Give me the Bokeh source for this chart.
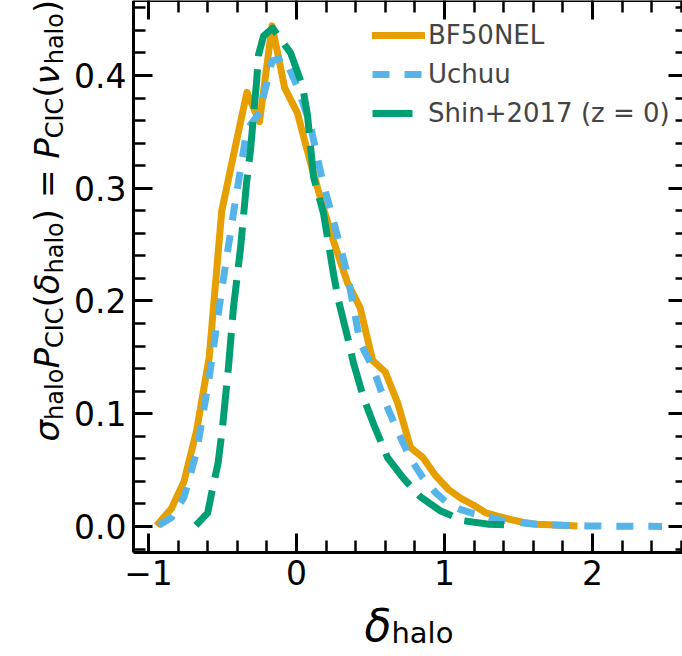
import math
from bokeh.plotting import figure
from bokeh.models import (Range1d, LinearAxis, Legend, LegendItem, Label, SingleIntervalTicker,
                          PrintfTickFormatter, CustomLabelingPolicy)
from bokeh.embed import file_html
from bokeh.resources import INLINE

# ---- data ----
bf_x = [-0.93, -0.845, -0.76, -0.675, -0.59, -0.505, -0.42, -0.335, -0.25, -0.165, -0.08, 0.005,
        0.09, 0.175, 0.26, 0.345, 0.43, 0.515, 0.6, 0.685, 0.77, 0.855, 0.94, 1.025, 1.11, 1.195,
        1.28, 1.365, 1.45, 1.535, 1.62, 1.705, 1.79, 1.875]
bf_y = [0.003, 0.016, 0.040, 0.085, 0.150, 0.280, 0.333, 0.385, 0.359, 0.444, 0.389, 0.367,
        0.325, 0.285, 0.249, 0.216, 0.194, 0.147, 0.137, 0.109, 0.070, 0.061, 0.045, 0.033, 0.025, 0.019,
        0.012, 0.009, 0.006, 0.0035, 0.002, 0.0015, 0.001, 0.0005]

uc_x = [-0.93, -0.845, -0.76, -0.675, -0.59, -0.505, -0.42, -0.335, -0.25, -0.165, -0.08, 0.005,
        0.09, 0.175, 0.26, 0.345, 0.43, 0.515, 0.6, 0.685, 0.77, 0.855, 0.94, 1.025, 1.11, 1.195,
        1.28, 1.365, 1.45, 1.535, 1.62, 1.705, 1.79, 1.875, 1.96, 2.045, 2.13, 2.215, 2.3, 2.385, 2.47]
uc_y = [0.001, 0.008, 0.026, 0.066, 0.132, 0.210, 0.283, 0.352, 0.367, 0.413, 0.416, 0.390,
        0.358, 0.307, 0.266, 0.223, 0.163, 0.141, 0.110, 0.084, 0.060, 0.043, 0.030, 0.020, 0.015, 0.0115,
        0.009, 0.006, 0.0045, 0.003, 0.002, 0.0015, 0.001, 0.0008, 0.0005, 0.0004, 0.0003, 0.0002, 0.0001, 0.0001, 0.0]

sh_x = [-0.68, -0.60, -0.57, -0.53, -0.50, -0.46, -0.426, -0.378, -0.338, -0.31, -0.29, -0.27, -0.257,
        -0.223, -0.162, -0.04, 0.04, 0.074, 0.115, 0.182, 0.25, 0.284, 0.345, 0.385, 0.453, 0.52, 0.615,
        0.72, 0.84, 0.97, 1.13, 1.30, 1.49]
sh_y = [0.001, 0.012, 0.032, 0.056, 0.088, 0.141, 0.194, 0.247, 0.304, 0.335, 0.365, 0.394, 0.418,
        0.435, 0.442, 0.420, 0.391, 0.365, 0.310, 0.278, 0.224, 0.200, 0.168, 0.145, 0.114, 0.091, 0.061,
        0.043, 0.026, 0.014, 0.005, 0.002, 0.001]

series_names = ["BF50NEL", "Uchuu", "Shin+2017 (z = 0)"]
series_colors = ["#E69F00", "#56B4E9", "#009E73"]

# axes limits of the plotted box (the right edge of the box lies just past the picture's edge)
X_MIN, X_MAX = -1.1014, 2.642
Y_MIN, Y_MAX = -0.0231, 0.4665

FONT = "DejaVu Sans"
W, H = 682, 650
BOX_L, BOX_B = 133, 552
XS = 148.0                        # pixels per unit of delta
YS = BOX_B / (Y_MAX - Y_MIN)
# the whole canvas is the frame; the box is drawn with axes pinned at the box edges
xr = Range1d(X_MIN - BOX_L / XS, X_MIN + (W - BOX_L) / XS)
yr = Range1d(Y_MIN - (H - BOX_B) / YS, Y_MAX)


def px2x(px):
    return X_MIN + (px - BOX_L) / XS


def py2y(py):
    return Y_MAX - py / YS


p = figure(width=W, height=H, x_range=xr, y_range=yr, output_backend="svg", toolbar_location=None,
           min_border=0, x_axis_location=None, y_axis_location=None)
p.grid.visible = False
p.outline_line_color = None
p.background_fill_color = "white"
p.border_fill_color = "white"

xt = SingleIntervalTicker(interval=1, num_minor_ticks=5)
yt = SingleIntervalTicker(interval=0.1, num_minor_ticks=5)

hide_all = CustomLabelingPolicy(code="""
const all = []
for (const i of indices) all.push(i)
for (const i of all) indices.unset(i)
return indices
""")


def make_axis(ticker, loc, bounds, labels):
    ax = LinearAxis(ticker=ticker, fixed_location=loc, bounds=bounds)
    ax.axis_line_width = 3
    ax.axis_line_color = "black"
    ax.major_tick_in = 19
    ax.major_tick_out = 0
    ax.minor_tick_in = 12
    ax.minor_tick_out = 0
    ax.major_tick_line_width = 3
    ax.minor_tick_line_width = 2.5
    ax.major_tick_line_color = "black"
    ax.minor_tick_line_color = "black"
    if labels:
        ax.major_label_text_font = FONT
        ax.major_label_text_font_size = "33px"
        ax.major_label_text_color = "black"
    else:
        ax.major_label_policy = hide_all
        ax.major_label_text_font_size = "1px"
        ax.major_label_standoff = 0
    return ax


bottom = make_axis(xt, Y_MIN, (X_MIN, X_MAX), True)
bottom.major_label_standoff = 7
bottom.major_label_overrides = {-1: "\u22121"}
p.add_layout(bottom, "below")

left = make_axis(yt, X_MIN, (Y_MIN, Y_MAX), True)
left.formatter = PrintfTickFormatter(format="%.1f")
left.major_label_standoff = 7
p.add_layout(left, "left")

top = make_axis(xt, Y_MAX, (X_MIN, X_MAX), False)
p.add_layout(top, "above")
right = make_axis(yt, X_MAX, (Y_MIN, Y_MAX), False)
p.add_layout(right, "right")

r1 = p.line(bf_x, bf_y, line_color=series_colors[0], line_width=7, line_join="round", line_cap="square")
r2 = p.line(uc_x, uc_y, line_color=series_colors[1], line_width=7, line_dash="17 15", line_join="round")
r3 = p.line(sh_x, sh_y, line_color=series_colors[2], line_width=7, line_dash="40 13", line_join="round")

legend = Legend(items=[LegendItem(label=series_names[0], renderers=[r1]),
                       LegendItem(label=series_names[1], renderers=[r2]),
                       LegendItem(label=series_names[2], renderers=[r3])],
                location=(372, H - 128))
legend.border_line_alpha = 0
legend.background_fill_alpha = 0
legend.padding = 0
legend.margin = 0
legend.spacing = 9
legend.glyph_width = 53
legend.glyph_height = 30
legend.label_height = 30
legend.label_standoff = 3
legend.label_text_font = FONT
legend.label_text_font_size = "26px"
p.add_layout(legend)

ADV = {"σ": 0.635, "P": 0.603, "δ": 0.612, "ν": 0.592, "(": 0.390, ")": 0.390, "=": 0.838, " ": 0.318,
       "h": 0.634, "a": 0.613, "l": 0.278, "o": 0.612, "C": 0.698, "I": 0.295}

# ---------------- y axis label (rotated, mathtext-like pieces) ----------------
F = 34
S = 24
pieces = [("σ", "i"), ("halo", "s"), ("P", "i"), ("CIC", "s"), ("(", "r"), ("δ", "i"), ("halo", "s"),
          (") = ", "r"), ("P", "i"), ("CIC", "s"), ("(", "r"), ("ν", "i"), ("halo", "s"), (")", "r")]
ypos = 441.0
main_base = 46
sub_base = 54
for txt, kind in pieces:
    size = S if kind == "s" else F
    p.add_layout(Label(x=px2x(sub_base if kind == "s" else main_base), y=py2y(ypos),
                       text=txt, angle=math.pi / 2, text_align="left", text_baseline="alphabetic",
                       text_font=FONT, text_font_size=f"{size}px",
                       text_font_style="italic" if kind == "i" else "normal", text_color="black"))
    ypos -= sum(ADV[c] for c in txt) * size

# ---------------- x axis label ----------------
FX = 44
SX = 29
p.add_layout(Label(x=px2x(364), y=py2y(625), text="δ", text_align="left", text_baseline="alphabetic",
                   text_font=FONT, text_font_size=f"{FX}px", text_font_style="italic", text_color="black"))
p.add_layout(Label(x=px2x(364 + ADV["δ"] * FX), y=py2y(632), text="halo", text_align="left",
                   text_baseline="alphabetic", text_font=FONT, text_font_size=f"{SX}px",
                   text_color="black"))

open("out.html", "w").write(file_html(p, INLINE))
